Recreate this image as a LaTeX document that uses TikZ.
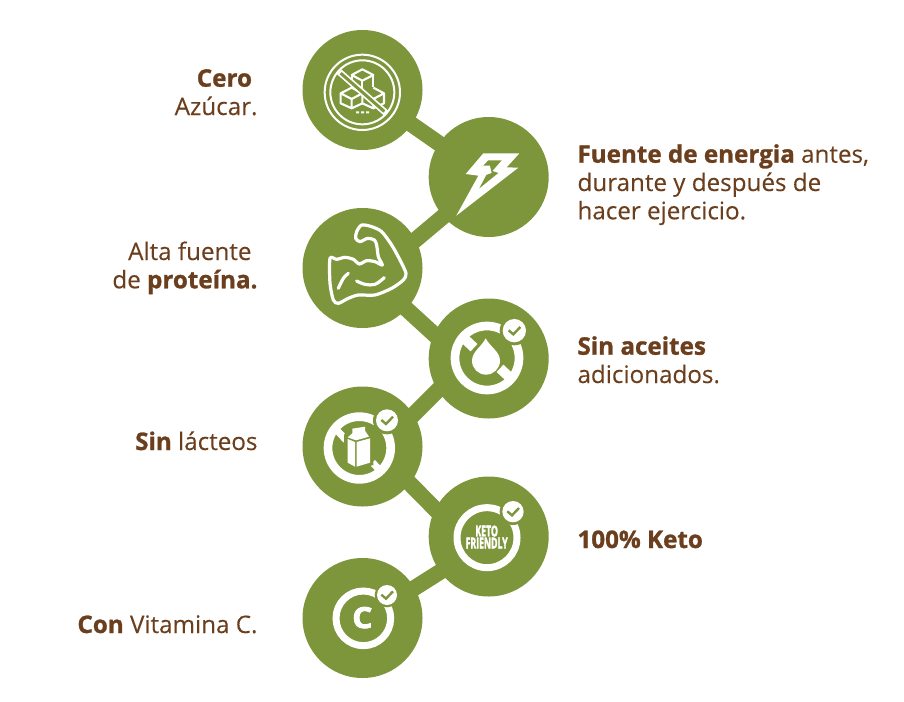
\documentclass[tikz,border=0pt]{standalone}
\usepackage{fontspec}
\usepackage{graphicx}
\setmainfont{Open Sans}[UprightFeatures={FakeBold=0.15},BoldFeatures={FakeBold=1.1}]
\newfontfamily\heavyf{Open Sans}[BoldFeatures={FakeBold=3}]
\newcommand{\xb}{\bfseries}
\definecolor{leaf}{HTML}{7D963B}
\definecolor{bark}{HTML}{6B3F1D}
\tikzset{
  blob/.style={circle,fill=leaf,minimum size=120pt,inner sep=0pt,outer sep=0pt},
  link/.style={draw=leaf,line width=16pt,shorten <=-5pt,shorten >=-5pt},
  lbl/.style={text=bark,inner sep=0pt,outer sep=0pt,font=\fontsize{24.2}{28.3}\selectfont},
  lblr/.style={lbl,align=right,anchor=base east},
  lbll/.style={lbl,align=left,anchor=base west},
  za/.style={shift={(300,20)},scale=1/3},
  zb/.style={shift={(300,205)},scale=1/3},
  zc/.style={shift={(300,385)},scale=1/3},
  zbolt/.style={shift={(455,145)},scale=1/3},
  zarm/.style={shift={(325,220)},scale=1/3},
  zcart/.style={shift={(320,410)},scale=1/3},
}
\newcommand{\badge}[4]{% x,y,r badge,r gap
  \fill[leaf] (#1,#2) circle (#4);
  \fill[white] (#1,#2) circle (#3);
  \draw[leaf,line width=2.4pt] (#1-17,#2-1) -- (#1-3,#2+11) -- (#1+18,#2-11);
}
\begin{document}
\begin{tikzpicture}[x=1pt,y=-1pt]
\useasboundingbox (0,0) rectangle (904,701);
\node[blob] (c1) at (362.5,90) {};
\node[blob] (c2) at (488.7,177) {};
\node[blob] (c3) at (362.5,268) {};
\node[blob] (c4) at (488.7,358.5) {};
\node[blob] (c5) at (362.5,446.5) {};
\node[blob] (c6) at (488.7,536.5) {};
\node[blob] (c7) at (362.5,618) {};
\draw[link] (c1.-35) -- (c2.146);
\draw[link] (c3.28) -- (c2.221);
\draw[link] (c3.-43.3) -- (c4.156.3);
\draw[link] (c5.32.6) -- (c4.212.5);
\draw[link] (c5.-38.8) -- (c6.153.3);
\draw[link] (c7.30.4) -- (c6.216.8);
% sugar
\begin{scope}[za]
  \draw[white,line width=2pt] (187,217) circle (113);
  \draw[white,line width=2pt] (187,217) circle (96);
  \begin{scope}[white,line width=2.1pt,line join=round]
    \draw (187,148) -- (220,165) -- (187,182) -- (155,165) -- cycle;
    \draw (155,165) -- (155,200) (220,165) -- (220,200) (187,182) -- (187,217);
    \draw (155,203) -- (187,220) -- (155,237) -- (122,220) -- cycle;
    \draw (122,220) -- (122,250) -- (155,265) -- (187,250) -- (187,220) (155,237) -- (155,265);
    \draw (220,203) -- (252,220) -- (220,237) -- (187,220);
    \draw (252,220) -- (252,250) -- (220,265) -- (187,250) (220,237) -- (220,265);
  \end{scope}
  \draw[white,line width=6.5pt] (117,155) -- (258,279);
  \draw[leaf,line width=3pt] (122,159.5) -- (253,274.5);
  \fill[white] (168,274) rectangle (177,280) (183,274) rectangle (192,280) (198,274) rectangle (207,280);
\end{scope}
% bolt
\begin{scope}[zbolt]
  \fill[white] (32,87) -- (85,25) -- (193,25) -- (155,67) -- (190,68) -- (4,212) -- (70,92) -- cycle;
  \fill[leaf] (100,46) -- (140,46) -- (112,78) -- (130,84) -- (73,130) -- (94,90) -- (110,84) -- (105,62) -- (85,62) -- cycle;
\end{scope}
% arm
\begin{scope}[zarm,white,line width=3.2pt,line cap=round,line join=round]
  \draw plot[smooth cycle,tension=0.45] coordinates {(15,115) (35,118) (60,112) (85,118) (103,132) (125,122) (150,125) (172,135) (160,110) (155,75) (148,60) (128,55) (105,65) (92,55) (95,35) (110,15) (140,20) (170,35) (200,75) (225,120) (243,160) (235,180) (200,205) (150,225) (100,225) (70,235) (40,250) (25,240) (15,190)};
  \draw plot[smooth,tension=0.5] coordinates {(70,160) (55,175) (40,205)};
  \draw plot[smooth,tension=0.6] coordinates {(95,183) (120,193) (150,193) (178,173)};
\end{scope}
% oil drop
\begin{scope}[zb]
  \draw[white,line width=8.7pt] (561,459) circle (96);
  \draw[white,line width=10pt] (490,398) -- (522,428);
  \draw[white,line width=10pt] (600,490) -- (632,520);
  \fill[white] (557,400) .. controls (545,425) and (516,440) .. (516,467) arc[start angle=180,end angle=0,radius=42] .. controls (600,440) and (570,425) .. (557,400) -- cycle;
  \badge{643}{377}{35}{44}
\end{scope}
% carton
\begin{scope}[zc]
  \draw[white,line width=8.7pt] (178,189) circle (94);
  \draw[white,line width=7pt] (110,135) -- (138,165);
  \draw[white,line width=7pt] (217,232) -- (245,262);
  \badge{261}{106}{33}{42}
\end{scope}
\begin{scope}[zcart]
  \fill[leaf] (72,75) -- (97,45) -- (145,40) -- (160,75) -- (160,165) -- (108,180) -- (72,165) -- cycle;
  \fill[white] (83,87) -- (105,96) -- (105,170) -- (83,158) -- cycle;
  \fill[white] (110,96) -- (150,85) -- (150,158) -- (110,170) -- cycle;
  \fill[white] (83,82) -- (97,70) -- (97,56) -- (135,50) -- (135,62) -- (147,80) -- (108,91) -- cycle;
\end{scope}
% keto
\begin{scope}[zc]
  \draw[white,line width=7pt] (561,458) circle (90);
  \badge{639}{380}{32}{40}
  \node[inner sep=0pt,white] (keto) at (560,456) {\resizebox{42pt}{23pt}{\heavyf\bfseries\fontsize{10}{10}\selectfont\shortstack[c]{KETO\\[-2.3pt]FRIENDLY}}};
\end{scope}
% vitamin C
\begin{scope}[zc]
  \draw[white,line width=7pt] (190,700) circle (82);
  \badge{261}{630}{30}{37}
  \node[inner sep=0pt,white] (vitc) at (187,698) {\scalebox{1.08}[1]{\heavyf\bfseries\fontsize{29}{29}\selectfont C}};
\end{scope}
% labels
\node[lblr] (t1) at (257.5,115) {{\xb Cero}\hspace*{5.5pt}\\Azúcar.};
\node[lblr] (t3) at (257.5,288.3) {Alta fuente\hspace*{6pt}\\de {\xb proteína.}};
\node[lblr] (t5) at (257.5,450) {{\xb Sin} lácteos};
\node[lblr] (t7) at (257.5,633) {{\xb Con} Vitamina C.};
\node[lbll] (t2) at (577.5,219.3) {{\xb Fuente de energia} antes,\\durante y después de\\hacer ejercicio.};
\node[lbll] (t4) at (577.5,383) {{\xb Sin aceites}\\adicionados.};
\node[lbll] (t6) at (577.5,548) {{\xb 100\% Keto}};
\end{tikzpicture}
\end{document}
